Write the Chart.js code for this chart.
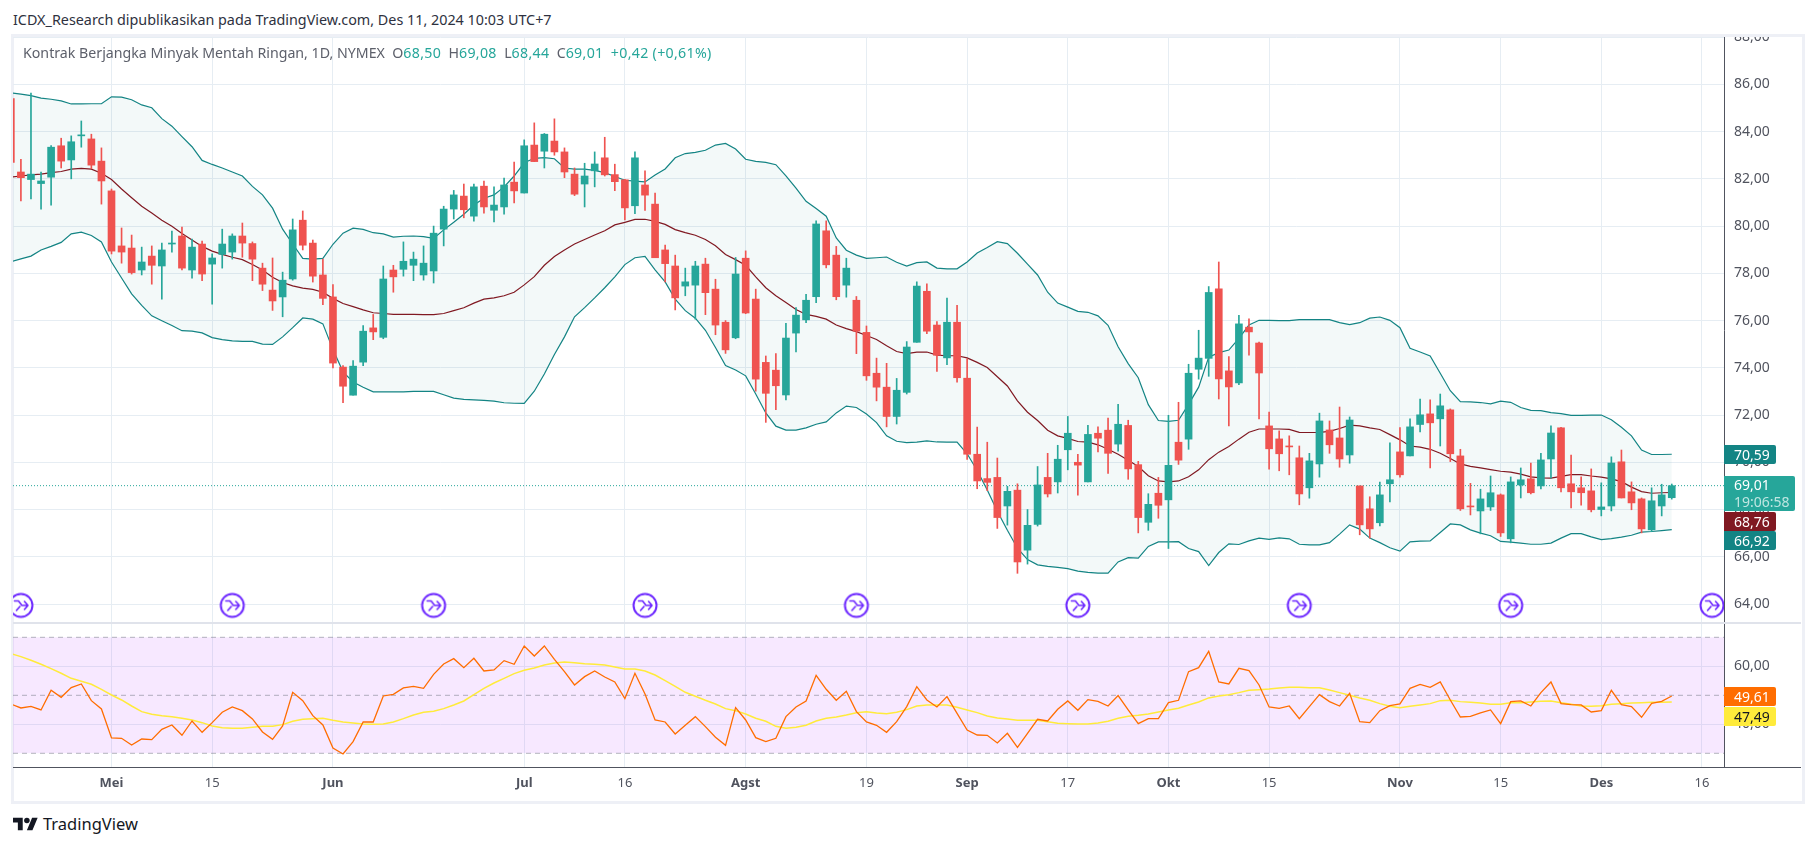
<!DOCTYPE html>
<html>
<head>
<meta charset="utf-8">
<title>Kontrak Berjangka Minyak Mentah Ringan</title>
<script src="https://cdn.jsdelivr.net/npm/chart.js@4"></script>
<style>
html, body { margin: 0; padding: 0; background: #fff; overflow: hidden; }
body { width: 1814px; height: 846px; position: relative; font-family: "Noto Sans", sans-serif; }
.abs { position: absolute; white-space: nowrap; }
#frame { left: 11px; top: 34px; width: 1788px; height: 764px; border: 3px solid #eef0f6; }
#priceWrap { position: absolute; left: 13px; top: 37px; width: 1788px; height: 586px; }
#rsiWrap { position: absolute; left: 13px; top: 623px; width: 1788px; height: 177px; }
#sep { left: 13px; top: 622px; width: 1788px; height: 2px; background: #e0e3eb; }
#axisEnd { left: 1724px; top: 767px; width: 77px; height: 1px; background: #50535e; }
#header { left: 13px; top: 10px; font-size: 14.35px; line-height: 20px; color: #2e3140; }
#legend { left: 23px; top: 43px; font-size: 14.2px; line-height: 20px; color: #5d606b; }
#legend b { font-weight: normal; color: #26a69a; letter-spacing: 0.3px; }
.pill { left: 1724px; width: 42px; height: 19px; line-height: 19px; color: #fff; font-size: 14px; padding-left: 10px; border-radius: 0 2px 2px 0; }
#logo { left: 13px; top: 817px; }
#logoText { left: 43px; top: 813px; font-size: 16.5px; line-height: 22px; color: #131722; }
</style>
</head>
<body>
<div class="abs" id="header">ICDX_Research dipublikasikan pada TradingView.com, Des 11, 2024 10:03 UTC+7</div>
<div class="abs" id="frame"></div>
<div id="priceWrap"><canvas id="priceChart"></canvas></div>
<div id="rsiWrap"><canvas id="rsiChart"></canvas></div>
<div class="abs" id="sep"></div>
<div class="abs" id="axisEnd"></div>
<div class="abs" id="legend">Kontrak Berjangka Minyak Mentah Ringan, 1D, NYMEX &nbsp;O<b>68,50</b> &nbsp;H<b>69,08</b> &nbsp;L<b>68,44</b> &nbsp;C<b>69,01</b> &nbsp;<b>+0,42 (+0,61%)</b></div>
<div class="abs pill" style="top:445px;background:#138484">70,59</div>
<div class="abs pill" style="top:476px;height:35px;width:61px;background:#26a69a;line-height:17px">69,01<br><span style="color:#bfe6e1">19:06:58</span></div>
<div class="abs pill" style="top:512px;background:#801922">68,76</div>
<div class="abs pill" style="top:531px;background:#138484">66,92</div>
<div class="abs pill" style="top:687px;background:#ff6d00">49,61</div>
<div class="abs pill" style="top:707px;background:#ffeb3b;color:#131722">47,49</div>
<svg class="abs" id="logo" width="25" height="14" viewBox="0 3 36 20"><path fill="#131722" d="M14 22H7V11H0V4h14v18zM28 22h-8l7.5-18h8L28 22z"/><circle fill="#131722" cx="20" cy="8" r="4"/></svg>
<div class="abs" id="logoText">TradingView</div>

<script>
// Bar index of each time axis label
const tickPositions = [10, 20, 32, 51, 61, 73, 85, 95, 105, 115, 125, 138, 148, 158, 168];
const tickLabels = ['Mei', '15', 'Jun', 'Jul', '16', 'Agst', '19', 'Sep', '17', 'Okt', '15', 'Nov', '15', 'Des', '16'];
const monthLabels = ['Mei', 'Jun', 'Jul', 'Agst', 'Sep', 'Okt', 'Nov', 'Des'];
const priceTicks = [64, 66, 68, 70, 72, 74, 76, 78, 80, 82, 84, 86, 88];
const rsiTicks = [40, 60];
const rsiBands = [70, 50, 30];
const rollBars = [1, 22, 42, 63, 84, 106, 128, 149, 169];
const rollLevel = 63.94;

const opens = [
  85.4,82.29,81.97,81.8,82.07,83.4,82.8,83.82,83.69,82.75,
  81.49,79.16,79.07,78.14,78.73,78.31,79.24,79.58,78.14,79.24,
  78.39,78.8,78.9,79.58,79.26,78.22,77.29,77.0,77.76,80.25,
  79.28,77.93,77.0,74.03,72.84,74.24,75.69,75.29,78.14,78.17,
  78.34,77.93,78.1,79.87,80.72,81.27,80.42,81.69,80.67,80.81,
  81.86,81.4,83.43,83.17,83.6,83.14,82.2,81.78,82.34,82.89,
  82.18,81.96,80.86,81.74,80.93,78.99,78.31,77.46,77.5,78.39,
  77.33,75.93,75.27,78.64,76.91,74.23,73.9,72.85,75.47,76.03,
  77.01,79.8,78.77,77.5,76.86,75.5,73.77,73.18,71.94,72.96,
  75.08,77.24,75.81,74.42,75.93,73.56,70.34,69.31,69.36,68.15,
  68.82,66.28,67.37,69.36,69.17,70.53,70.0,69.17,71.23,71.36,
  70.77,71.56,69.9,67.46,68.69,68.41,70.85,70.98,73.94,74.4,
  77.34,73.87,73.36,75.72,75.05,71.54,70.99,70.69,70.19,68.92,
  69.93,71.37,71.03,70.31,69.0,68.03,67.44,69.09,70.44,70.27,
  71.6,72.05,71.84,72.22,70.27,68.15,67.94,68.11,68.62,66.76,
  69.04,69.3,69.0,70.14,71.46,69.09,68.92,68.79,68.0,68.15,
  70.02,68.75,68.45,67.14,68.15,68.5
];
const closes = [
  82.7,82.05,82.2,81.91,83.34,82.75,83.57,83.86,82.58,81.91,
  78.94,78.9,78.03,78.48,78.34,78.99,79.28,78.22,79.11,77.97,
  78.65,79.24,79.58,79.28,78.6,77.54,76.83,77.71,79.84,79.19,
  77.88,76.94,74.2,73.22,74.07,75.55,75.52,77.76,77.85,78.51,
  78.6,78.43,79.7,80.72,81.32,80.69,81.66,80.81,80.89,81.74,
  81.49,83.4,82.73,83.89,83.14,82.29,81.35,82.12,82.63,82.17,
  81.88,80.77,82.89,81.31,78.66,78.41,76.96,77.64,78.31,77.18,
  75.81,74.76,77.97,76.32,73.52,72.92,73.24,75.26,76.23,76.86,
  80.09,78.36,77.01,78.22,75.55,73.66,73.18,71.94,73.05,74.88,
  77.46,75.55,74.53,75.93,73.58,70.34,69.21,69.15,67.66,68.77,
  65.78,67.33,69.04,68.66,70.13,71.23,69.88,71.18,71.02,70.38,
  71.61,69.72,67.66,68.22,68.18,69.87,70.09,73.77,74.41,77.19,
  73.53,73.19,75.86,75.52,73.78,70.57,70.36,70.65,68.66,70.06,
  71.75,70.74,70.14,71.79,67.35,67.18,68.62,69.26,69.47,71.5,
  72.01,71.67,72.39,70.36,68.03,68.11,68.45,68.71,67.01,69.17,
  69.26,68.71,70.1,71.24,68.92,68.75,68.71,67.99,68.11,69.97,
  68.49,68.28,67.18,68.37,68.62,69.01
];
const highs = [
  85.4,82.83,85.63,82.29,83.41,83.72,83.82,84.45,83.89,83.31,
  81.57,79.92,79.62,79.11,79.16,79.28,79.79,79.96,79.45,79.36,
  78.82,79.87,79.67,80.13,79.33,78.43,78.65,78.05,80.3,80.64,
  79.41,78.6,77.52,74.09,74.31,75.79,76.26,78.31,78.34,79.33,
  78.9,79.16,80.0,80.84,81.51,81.78,81.78,81.91,81.66,82.03,
  82.71,83.65,84.37,83.92,84.54,83.31,82.46,82.66,83.14,83.76,
  82.62,81.98,83.14,82.34,81.4,79.2,78.77,78.22,78.51,78.64,
  77.75,76.0,78.67,78.95,77.33,74.5,74.6,75.88,76.55,77.11,
  80.22,80.22,79.14,78.64,77.02,75.77,74.41,74.19,73.55,75.11,
  77.64,77.55,75.96,76.95,76.64,74.38,71.49,70.85,70.18,68.98,
  69.09,68.0,69.82,70.38,70.72,71.94,70.34,71.56,71.5,71.87,
  72.45,71.78,70.04,68.67,69.36,71.99,72.54,74.15,75.59,77.44,
  78.48,74.47,76.22,76.07,75.09,72.13,71.33,71.12,70.69,70.38,
  72.08,71.75,72.34,71.92,69.0,68.54,69.16,70.82,71.47,71.84,
  72.68,72.64,72.89,72.26,70.55,69.11,68.86,69.42,68.66,69.38,
  69.76,69.97,70.38,71.54,71.48,70.31,69.38,69.72,69.13,70.23,
  70.52,69.17,68.49,68.92,69.07,69.08
];
const lows = [
  82.7,81.06,81.15,80.72,80.89,82.46,82.0,83.34,82.43,80.93,
  78.82,78.43,77.97,77.93,77.54,76.91,78.9,78.14,77.8,77.69,
  76.69,78.22,78.6,78.68,77.69,77.27,76.43,76.16,77.71,78.99,
  77.63,76.67,74.0,72.52,72.84,74.09,75.19,75.23,77.2,77.88,
  77.69,77.71,77.59,79.16,80.3,80.35,80.21,80.55,80.18,80.5,
  80.98,81.4,82.73,82.46,83.0,82.05,81.29,80.81,81.66,82.12,
  81.5,80.26,80.53,80.66,78.66,77.64,76.45,77.05,76.06,76.25,
  75.4,74.61,75.23,76.29,73.01,71.69,72.23,72.64,74.67,75.91,
  76.76,78.23,76.88,76.99,74.6,73.47,72.6,71.5,71.62,72.89,
  75.08,75.45,73.85,74.13,73.39,70.12,68.88,68.8,67.2,67.34,
  65.3,65.69,67.3,68.53,68.7,69.68,68.61,69.17,70.44,69.53,
  70.47,69.28,67.01,67.12,67.63,66.35,69.91,70.55,73.52,73.64,
  72.68,71.54,73.29,74.54,71.84,69.71,69.64,69.47,68.2,68.48,
  69.37,70.38,69.79,69.96,66.93,66.79,67.31,68.32,69.37,70.27,
  71.29,69.76,70.69,70.03,67.96,67.77,66.97,67.96,66.86,66.59,
  68.49,68.66,68.87,69.33,68.75,68.07,68.18,67.9,67.73,67.94,
  68.49,67.99,67.01,67.06,67.73,68.44
];

const bbUpper = [
  85.64,85.59,85.52,85.42,85.37,85.3,85.17,85.17,85.18,85.18,
  85.47,85.46,85.35,85.13,85.01,84.55,84.23,83.79,83.36,82.78,
  82.61,82.46,82.29,82.12,81.68,81.32,80.76,79.87,79.24,78.63,
  78.6,78.63,79.23,79.7,79.91,79.86,79.72,79.67,79.53,79.57,
  79.58,79.55,79.48,79.84,80.16,80.5,80.89,81.18,81.32,81.66,
  82.12,82.68,82.87,82.9,82.85,82.46,82.41,82.41,82.36,82.26,
  82.1,81.94,81.9,81.87,82.16,82.42,82.89,83.07,83.12,83.21,
  83.43,83.5,83.26,82.83,82.74,82.7,82.6,82.13,81.61,81.05,
  80.74,80.42,79.5,78.98,78.77,78.63,78.66,78.69,78.47,78.31,
  78.45,78.48,78.22,78.19,78.19,78.48,78.86,79.09,79.34,79.26,
  78.85,78.39,77.93,77.2,76.74,76.57,76.39,76.35,76.2,75.8,
  74.89,74.18,73.58,72.44,71.77,71.73,71.78,72.45,73.18,74.45,
  74.64,74.75,75.25,75.81,76.01,76.01,76.0,76.0,76.04,76.04,
  76.04,76.04,75.91,75.83,75.91,76.1,76.15,76.01,75.7,74.83,
  74.67,74.5,73.77,73.03,72.57,72.56,72.53,72.47,72.59,72.54,
  72.32,72.2,72.19,72.1,72.06,71.99,71.99,72.0,72.0,71.8,
  71.48,71.12,70.52,70.33,70.33,70.34
];
const bbBasis = [
  82.07,82.12,82.17,82.2,82.26,82.31,82.41,82.44,82.41,82.24,
  81.97,81.57,81.2,80.84,80.55,80.25,79.99,79.69,79.41,79.14,
  78.94,78.8,78.68,78.58,78.37,78.14,77.83,77.61,77.47,77.37,
  77.32,77.2,76.94,76.72,76.59,76.45,76.33,76.3,76.26,76.26,
  76.26,76.25,76.25,76.3,76.42,76.54,76.74,76.91,76.96,77.05,
  77.2,77.51,77.86,78.34,78.71,78.99,79.24,79.43,79.62,79.8,
  80.05,80.16,80.28,80.29,80.2,80.07,79.85,79.72,79.61,79.43,
  79.17,78.8,78.58,78.34,77.85,77.39,77.05,76.76,76.47,76.26,
  76.18,76.06,75.81,75.66,75.53,75.37,75.2,74.93,74.69,74.6,
  74.66,74.67,74.54,74.51,74.51,74.42,74.23,74.01,73.62,73.23,
  72.6,72.12,71.77,71.36,71.12,71.01,70.88,70.85,70.74,70.55,
  70.34,70.09,69.82,69.43,69.21,69.17,69.21,69.39,69.68,70.11,
  70.43,70.67,70.98,71.27,71.41,71.41,71.41,71.39,71.27,71.26,
  71.27,71.31,71.43,71.57,71.54,71.46,71.39,71.17,70.95,70.69,
  70.64,70.55,70.38,70.16,69.93,69.83,69.76,69.69,69.62,69.58,
  69.5,69.38,69.34,69.33,69.4,69.48,69.48,69.42,69.37,69.3,
  69.18,68.95,68.76,68.69,68.71,68.72
];
const bbLower = [
  78.49,78.61,78.73,78.99,79.14,79.31,79.67,79.74,79.6,79.33,
  78.48,77.8,77.13,76.64,76.2,75.99,75.79,75.57,75.55,75.48,
  75.28,75.19,75.14,75.12,75.12,75.0,74.99,75.31,75.7,76.11,
  76.06,75.86,74.77,73.83,73.4,73.18,72.98,72.98,72.98,72.98,
  73.0,73.0,73.0,72.86,72.72,72.66,72.64,72.62,72.59,72.52,
  72.5,72.49,73.01,73.74,74.56,75.31,76.16,76.55,76.96,77.39,
  77.85,78.37,78.66,78.72,78.15,77.64,76.91,76.42,76.1,75.59,
  74.86,74.1,73.91,73.66,72.89,72.09,71.53,71.36,71.36,71.46,
  71.61,71.71,72.09,72.38,72.32,72.04,71.68,71.12,70.89,70.83,
  70.85,70.91,70.86,70.85,70.85,70.36,69.65,68.83,67.93,67.12,
  66.36,65.88,65.66,65.59,65.55,65.5,65.39,65.34,65.31,65.31,
  65.78,65.96,65.94,66.44,66.63,66.63,66.64,66.35,66.22,65.63,
  66.18,66.55,66.52,66.67,66.79,66.74,66.8,66.76,66.53,66.5,
  66.5,66.6,66.96,67.35,67.17,66.79,66.6,66.38,66.24,66.63,
  66.66,66.67,67.03,67.39,67.35,67.14,67.0,66.89,66.65,66.62,
  66.58,66.53,66.53,66.58,66.79,66.98,66.98,66.84,66.73,66.77,
  66.83,66.91,67.04,67.07,67.11,67.15
];

const rsiValues = [
  47.01,45.63,46.21,44.94,51.72,49.31,52.64,53.91,48.16,45.29,
  35.29,35.17,32.87,34.94,34.71,38.28,39.77,36.21,41.15,37.24,
  40.57,44.14,45.98,44.71,41.84,37.36,34.83,39.43,51.03,48.16,
  42.99,39.77,31.84,29.77,34.02,40.8,40.8,49.77,50.34,52.53,
  53.1,52.41,57.24,60.8,62.64,59.54,62.76,58.39,58.74,61.95,
  60.69,67.01,63.56,67.01,62.41,58.16,53.56,56.44,58.39,56.32,
  54.6,48.85,57.59,50.46,41.49,40.8,36.67,39.66,42.64,39.2,
  35.52,32.76,45.75,41.49,35.4,34.02,35.17,42.64,45.98,48.05,
  56.9,52.07,48.28,51.38,44.37,40.8,39.66,37.24,40.92,46.09,
  52.99,48.39,45.98,49.54,43.79,38.05,36.32,36.21,33.56,36.9,
  32.07,36.9,41.72,41.15,45.17,48.05,44.83,48.51,47.93,46.32,
  49.89,44.94,40.23,41.95,41.95,47.47,48.28,58.16,59.54,65.17,
  54.6,53.91,59.31,58.51,53.56,45.98,45.52,46.32,41.95,46.09,
  50.23,47.82,46.32,50.69,40.92,40.57,44.71,46.44,47.01,52.41,
  53.79,52.76,54.6,48.39,42.53,42.76,43.91,44.94,40.23,47.82,
  48.05,46.32,50.92,54.6,47.13,46.78,46.67,44.25,44.71,51.72,
  46.78,46.09,42.41,47.24,47.93,49.77
];
const rsiMa = [
  64.37,63.33,62.07,60.69,59.2,57.59,55.86,54.83,53.79,52.07,
  50.11,48.39,46.32,44.37,43.45,42.99,42.64,42.07,41.49,40.57,
  39.43,38.85,38.62,38.62,38.97,39.31,39.31,39.89,41.03,41.72,
  41.95,42.07,41.38,40.8,40.46,40.11,40.0,40.11,40.8,41.95,
  43.22,44.14,44.48,45.4,46.67,48.05,50.23,52.41,54.25,55.86,
  57.47,58.62,59.43,60.46,61.15,61.49,61.26,60.92,60.69,60.46,
  59.77,59.08,59.08,58.39,57.01,55.06,53.1,51.03,49.66,48.28,
  47.01,45.4,44.71,43.56,42.07,41.03,39.31,38.62,38.97,39.66,
  41.15,42.07,42.53,43.22,44.02,44.37,43.91,43.68,44.14,45.06,
  46.32,46.67,46.67,46.67,45.86,44.94,44.02,42.87,42.18,41.84,
  41.38,41.38,41.38,40.92,40.34,40.23,40.11,40.11,40.46,41.03,
  42.07,42.76,43.1,43.56,44.25,44.94,45.52,46.67,47.7,49.1,
  49.77,50.23,50.92,51.72,51.95,52.18,52.53,52.76,52.76,52.64,
  52.64,51.84,50.92,50.0,49.08,48.28,47.13,46.21,45.75,46.21,
  46.67,47.13,48.16,48.28,47.82,47.59,47.36,46.9,46.9,47.47,
  47.47,47.7,47.93,48.05,47.47,46.9,46.32,46.21,46.44,46.9,
  47.13,47.36,47.47,47.59,47.59,47.7
];

const UP = '#26a69a';
const DOWN = '#ef5350';
const GRID = '#e6edf3';
const AXIS = '#50535e';
const FONT = '"Noto Sans", sans-serif';

// Visible bar range of the pane, left and right edge of the plot
const X_MIN = 0.2146;
const X_MAX = 170.19;
const AXIS_WIDTH = 77;

const barColors = opens.map((o, i) => (closes[i] >= o ? UP : DOWN));
const toPoints = arr => arr.map((v, i) => ({ x: i, y: v }));
const priceText = v => v.toFixed(2).replace('.', ',');

function rollIcon() {
    const c = document.createElement('canvas');
    c.width = 28;
    c.height = 28;
    const g = c.getContext('2d');
    g.beginPath();
    g.arc(14, 14, 11.5, 0, Math.PI * 2);
    g.fillStyle = '#fff';
    g.fill();
    g.lineWidth = 2;
    g.strokeStyle = '#6d28ff';
    g.stroke();
    g.lineWidth = 1.6;
    g.lineCap = 'round';
    g.lineJoin = 'round';
    g.beginPath();
    g.moveTo(7.5, 9.5);
    g.lineTo(11.5, 9.5);
    g.lineTo(15, 14);
    g.lineTo(21, 14);
    g.moveTo(17.5, 10);
    g.lineTo(21, 14);
    g.lineTo(17.5, 18);
    g.moveTo(9.5, 19);
    g.lineTo(13, 15);
    g.stroke();
    return c;
}

function xAxis(showLabels) {
    return {
        type: 'linear',
        offset: false,
        min: X_MIN,
        max: X_MAX,
        afterBuildTicks: scale => { scale.ticks = tickPositions.map(v => ({ value: v })); },
        afterFit: scale => {
            scale.height = showLabels ? 33 : 0;
            scale.paddingLeft = 0;
            scale.paddingRight = 0;
        },
        grid: { color: GRID, drawTicks: false, lineWidth: 1, offset: false },
        border: showLabels ? { color: AXIS, width: 1 } : { display: false },
        ticks: {
            display: showLabels,
            autoSkip: false,
            maxRotation: 0,
            padding: 8,
            color: AXIS,
            callback: value => tickLabels[tickPositions.indexOf(value)],
            font: ctx => {
                const isMonth = ctx.tick && monthLabels.includes(tickLabels[tickPositions.indexOf(ctx.tick.value)]);
                return { family: FONT, size: 13, weight: isMonth ? 'bold' : 'normal' };
            }
        }
    };
}

function yAxis(min, max, ticks) {
    return {
        position: 'right',
        min: min,
        max: max,
        afterBuildTicks: scale => { scale.ticks = ticks.map(v => ({ value: v })); },
        afterFit: scale => {
            scale.width = AXIS_WIDTH;
            // no inset for the tick labels, the pane fills the canvas
            scale.paddingTop = 0;
            scale.paddingBottom = 0;
        },
        grid: { color: GRID, drawTicks: false, lineWidth: 1 },
        border: { color: AXIS, width: 1 },
        ticks: {
            padding: 10,
            color: AXIS,
            crossAlign: 'near',
            font: { family: FONT, size: 14 },
            callback: value => priceText(value)
        }
    };
}

new Chart(document.getElementById('priceChart'), {
    type: 'bar',
    data: {
        datasets: [
            {
                type: 'scatter',
                data: rollBars.map(b => ({ x: b, y: rollLevel })),
                pointStyle: rollIcon(),
                pointRadius: 12,
                clip: 0,
                order: 0
            },
            {
                data: opens.map((o, i) => ({ x: i, y: [o, closes[i]] })),
                backgroundColor: barColors,
                barThickness: 7,
                minBarLength: 1,
                grouped: false,
                order: 1
            },
            {
                data: lows.map((l, i) => ({ x: i, y: [l, highs[i]] })),
                backgroundColor: barColors,
                barThickness: 1,
                grouped: false,
                order: 2
            },
            {
                type: 'line',
                data: [{ x: X_MIN, y: closes[closes.length - 1] }, { x: X_MAX, y: closes[closes.length - 1] }],
                borderColor: UP,
                borderWidth: 1,
                borderDash: [1, 2],
                pointRadius: 0,
                order: 3
            },
            {
                type: 'line',
                data: toPoints(bbBasis),
                borderColor: '#801922',
                borderWidth: 1.2,
                pointRadius: 0,
                tension: 0,
                order: 4
            },
            {
                type: 'line',
                data: toPoints(bbLower),
                borderColor: '#138484',
                borderWidth: 1.2,
                pointRadius: 0,
                tension: 0,
                order: 5
            },
            {
                type: 'line',
                data: toPoints(bbUpper),
                borderColor: '#138484',
                borderWidth: 1.2,
                pointRadius: 0,
                tension: 0,
                fill: { target: 5 },
                backgroundColor: 'rgba(19, 132, 132, 0.05)',
                order: 6
            }
        ]
    },
    options: {
        animation: false,
        responsive: true,
        maintainAspectRatio: false,
        events: [],
        layout: { padding: 0, autoPadding: false },
        plugins: { legend: { display: false }, tooltip: { enabled: false } },
        scales: {
            x: xAxis(false),
            y: yAxis(63.196, 88.005, priceTicks)
        }
    }
});

new Chart(document.getElementById('rsiChart'), {
    type: 'line',
    data: {
        datasets: [
            {
                data: toPoints(rsiValues),
                borderColor: '#ff6d00',
                borderWidth: 1.3,
                pointRadius: 0,
                tension: 0,
                order: 0
            },
            {
                data: toPoints(rsiMa),
                borderColor: '#ffeb3b',
                borderWidth: 1.5,
                pointRadius: 0,
                tension: 0,
                order: 1
            },
            {
                data: [{ x: X_MIN, y: rsiBands[0] }, { x: X_MAX, y: rsiBands[0] }],
                borderColor: 'rgba(120, 123, 134, 0.55)',
                borderWidth: 1,
                borderDash: [5, 4],
                pointRadius: 0,
                fill: { target: 3 },
                backgroundColor: 'rgba(175, 40, 255, 0.105)',
                order: 4
            },
            {
                data: [{ x: X_MIN, y: rsiBands[2] }, { x: X_MAX, y: rsiBands[2] }],
                borderColor: 'rgba(120, 123, 134, 0.55)',
                borderWidth: 1,
                borderDash: [5, 4],
                pointRadius: 0,
                order: 3
            },
            {
                data: [{ x: X_MIN, y: rsiBands[1] }, { x: X_MAX, y: rsiBands[1] }],
                borderColor: 'rgba(120, 123, 134, 0.55)',
                borderWidth: 1,
                borderDash: [5, 4],
                pointRadius: 0,
                order: 2
            }
        ]
    },
    options: {
        animation: false,
        responsive: true,
        maintainAspectRatio: false,
        events: [],
        layout: { padding: 0, autoPadding: false },
        plugins: { legend: { display: false }, tooltip: { enabled: false } },
        scales: {
            x: xAxis(true),
            y: yAxis(25.28, 74.93, rsiTicks)
        }
    }
});
</script>
</body>
</html>
